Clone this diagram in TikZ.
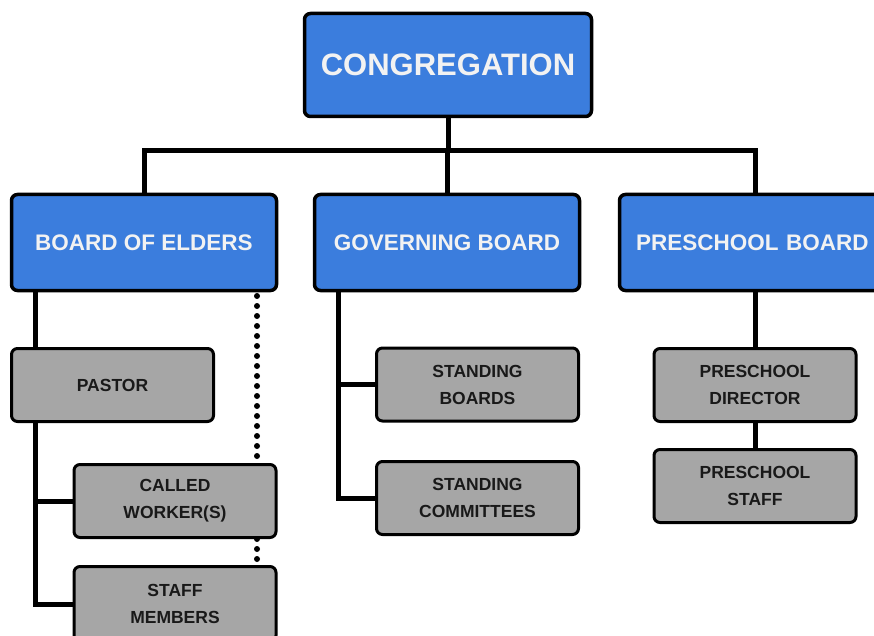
\documentclass[tikz,border=0pt]{standalone}
\usepackage{fontspec}
\setmainfont{Liberation Sans}
\usetikzlibrary{backgrounds}
\definecolor{boardblue}{HTML}{3B7DDD}
\definecolor{unitgray}{HTML}{A6A6A6}
\definecolor{boardtext}{HTML}{F2F2F2}
\tikzset{
	board box/.style={draw=black, line width=3.5pt, fill=boardblue, rounded corners=6pt, text=boardtext, inner sep=0pt, font=\bfseries\fontsize{22.5}{27}\selectfont, minimum width=265pt, minimum height=96pt},
	unit box/.style={draw=black, line width=3pt, fill=unitgray, rounded corners=6pt, text=black!90, inner sep=0pt, align=center, font=\bfseries\fontsize{17.5}{27}\selectfont, minimum width=202pt, minimum height=73pt},
	link/.style={line width=5pt},
	dotlink/.style={line width=6pt, line cap=round, dash pattern=on 0pt off 10pt},
}
\begin{document}
\begin{tikzpicture}[x=1pt,y=-1pt]
	\clip (0,0) rectangle (874,636);
	% top
	\node[board box, minimum width=287pt, minimum height=103pt, font=\bfseries\fontsize{31}{36}\selectfont] (congregation) at (448,65) {CONGREGATION};
	% boards
	\node[board box] (elders) at (144,242.5) {BOARD OF ELDERS};
	\node[board box] (governing) at (447,242.5) {GOVERNING BOARD};
	\node[board box, minimum width=271pt, text width=250pt, align=left] (preschool) at (755,242.5) {\hspace*{6pt}PRESCHOOL BOARD};
	% units
	\node[unit box] (pastor) at (112.5,385) {PASTOR};
	\node[unit box] (called) at (175,501) {CALLED\\WORKER(S)};
	\node[unit box, minimum height=75pt] (staff) at (175,604) {STAFF\\MEMBERS};
	\node[unit box] (boards) at (477.5,384.5) {STANDING\\BOARDS};
	\node[unit box] (committees) at (477.5,498) {STANDING\\COMMITTEES};
	\node[unit box] (director) at (755,385) {PRESCHOOL\\DIRECTOR};
	\node[unit box] (pstaff) at (755,486) {PRESCHOOL\\STAFF};
	% connectors
	\coordinate (bus) at (448,151);
	\coordinate (eldtrunk) at (35,292);
	\coordinate (dotline) at (257,292);
	\coordinate (govtrunk) at (338,292);
	\begin{scope}[on background layer]
		\draw[link] (congregation.south) -- (bus);
		\draw[link] (elders.north) |- (bus) -| (preschool.north -| director.north);
		\draw[link] (governing.north) -- (governing.north |- bus);
		\draw[link] (eldtrunk) |- (staff.west);
		\draw[link] (eldtrunk |- called.west) -- (called.west);
		\draw[dotlink] ([yshift=6pt]dotline) -- (dotline |- called.north);
		\draw[dotlink] (dotline |- called.south) -- (dotline |- staff.north);
		\draw[link] (govtrunk) |- (committees.west);
		\draw[link] (govtrunk |- boards.west) -- (boards.west);
		\draw[link] (director.north |- preschool.south) -- (director.north);
		\draw[link] (director.south) -- (pstaff.north);
	\end{scope}
\end{tikzpicture}
\end{document}
